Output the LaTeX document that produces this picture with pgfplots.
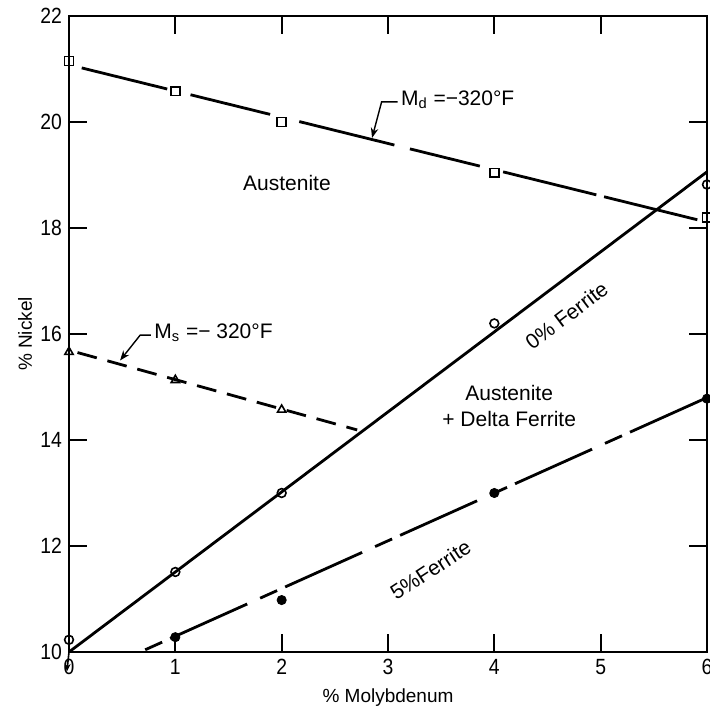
\documentclass[border=0pt]{standalone}
\usepackage{fontspec}
\setmainfont{Liberation Sans}
\newfontfamily\tickfont{Liberation Sans}[FakeStretch=0.88]
\usepackage{pgfplots}
\pgfplotsset{compat=1.18}
\usetikzlibrary{arrows.meta}

\begin{document}
\begin{tikzpicture}
\begin{axis}[
  name=ax,
  scale only axis, width=319pt, height=318pt,
  xmin=0, xmax=6, ymin=10, ymax=22,
  xtick={0,...,6}, ytick={10,12,...,22},
  tick align=inside, major tick length=9pt,
  tick style={line width=0.9pt, black},
  axis line style={line width=1.2pt},
  ticklabel style={font=\tickfont\fontsize{11}{12}\selectfont},
  /pgf/number format/assume math mode=true,
  xlabel={\% Molybdenum}, ylabel={\% Nickel},
  label style={font=\fontsize{9.5}{11}\selectfont},
  xlabel style={at={(axis description cs:0.5,-0.071)}, anchor=center},
  ylabel style={at={(axis description cs:-0.069,0.5)}, anchor=center},
  clip=false,
]
% boundary lines
\addplot[line width=1.4pt, dash pattern=on 44pt off 12pt on 41pt off 15pt on 49pt off 8pt on 36pt off 12pt on 48pt off 4pt on 48pt off 10pt]
  coordinates {(0.12,21.02) (5.92,18.15)};
\addplot[line width=1.4pt] coordinates {(0,10) (6,19.06)};
\addplot[line width=1.4pt, dash pattern=on 10pt off 5.5pt] coordinates {(0.08,15.65) (2.71,14.19)};
\addplot[line width=1.4pt, dash pattern=on 42.2pt off 4.4pt on 9.3pt off 7.1pt] coordinates {(6,14.8) (0.67,10)};

% measured points
\addplot[only marks, mark=square, mark size=2.2pt, mark options={fill=white, line width=0.8pt}]
  coordinates {(0,21.15) (1,20.58) (2,20.0) (4,19.04) (6,18.2)};
\addplot[only marks, mark=o, mark size=2.2pt, mark options={fill=white, line width=0.8pt}]
  coordinates {(0,10.23) (1,11.51) (2,13.0) (4,16.2) (6,18.82)};
\addplot[only marks, mark=triangle, mark size=2.4pt, mark options={fill=white, line width=0.8pt}]
  coordinates {(0,15.66) (1,15.13) (2,14.57)};
\addplot[only marks, mark=*, mark size=2.3pt, mark options={fill=black}]
  coordinates {(1,10.28) (2,10.98) (4,13.0) (6,14.78)};

% region and curve labels
\node[font=\fontsize{10.5}{12}\selectfont] at (axis cs:2.05,18.85) {Austenite};
\node[font=\fontsize{10.5}{13}\selectfont, align=center] at (axis cs:4.14,14.64) {Austenite\\+ Delta Ferrite};
\node[font=\fontsize{10.5}{12}\selectfont, rotate=37] at (axis cs:4.68,16.35) {0\% Ferrite};
\node[font=\fontsize{10.5}{12}\selectfont, rotate=33] at (axis cs:3.4,11.55) {5\%Ferrite};

\node[font=\fontsize{10.5}{12}\selectfont, anchor=west, inner sep=1pt] at (axis cs:3.10,20.42) {M\textsubscript{d} =−320°F};
\draw[line width=0.7pt, -{Stealth[length=5pt]}] (axis cs:3.09,20.38) -- (axis cs:2.94,20.38) -- (axis cs:2.85,19.70);

\node[font=\fontsize{10.5}{12}\selectfont, anchor=west, inner sep=1pt] at (axis cs:0.78,16.02) {M\textsubscript{s} =− 320°F};
\draw[line width=0.7pt, -{Stealth[length=5pt]}] (axis cs:0.77,15.98) -- (axis cs:0.67,15.98) -- (axis cs:0.48,15.5);

\draw[line width=0.8pt, -{Stealth[length=4pt]}] (axis cs:0,10) -- (axis cs:-0.02,9.63);
\end{axis}
% page frame: the last tick label runs past the right edge
\pgfresetboundingbox
\path[use as bounding box] ([xshift=-34.5pt,yshift=-29.5pt]ax.south west) rectangle ([xshift=1.5pt,yshift=8pt]ax.north east);
\end{tikzpicture}
\end{document}
